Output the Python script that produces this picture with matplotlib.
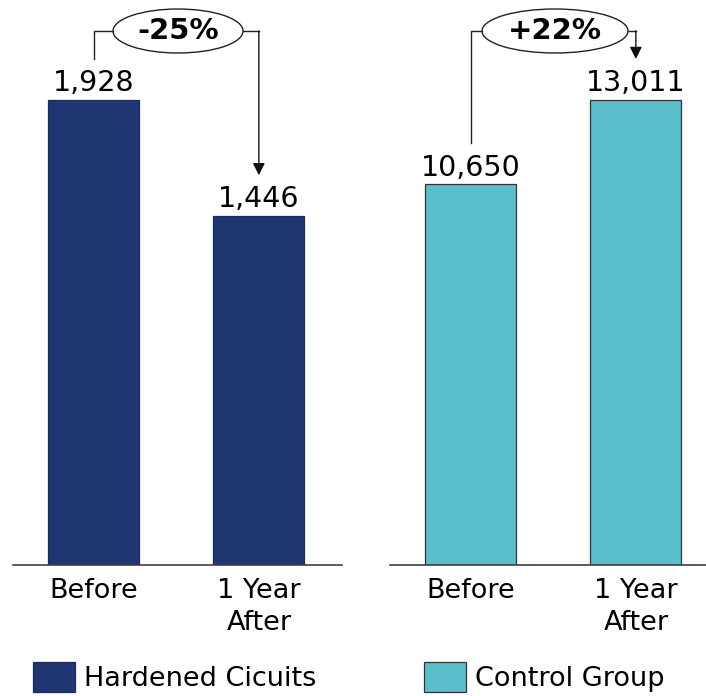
import matplotlib.pyplot as plt
from matplotlib.patches import Ellipse, Rectangle

# data
categories = ['Before', '1 Year\nAfter']
hardened = [1928, 1446]
control = [10650, 13011]
changes = ['-25%', '+22%']
groups = ['Hardened Cicuits', 'Control Group']
colors = ['#1f3673', '#5bbfcb']
edges = ['#1a2c5e', '#333333']

W, H = 706, 696
fig = plt.figure(figsize=(W / 100, H / 100), dpi=100)
plt.rcParams['font.family'] = ['DejaVu Sans']

base = 565      # pixel row of the baseline
top_bar = 100   # pixel row of the tallest bar in each panel
bar_px = 165    # spacing of bar centres, pixels


def panel(left_px, right_px, vals, color, edge, label, ell_w):
    ax = fig.add_axes([left_px / W, (H - base) / H, (right_px - left_px) / W, base / H])
    x = [0, 1]
    ax.bar(x, vals, width=0.55, color=color, edgecolor=edge, linewidth=0.9, zorder=2)
    vmax = max(vals)
    dpp = vmax / (base - top_bar)         # data units per pixel
    ax.set_ylim(0, base * dpp)
    x0 = -0.49
    ax.set_xlim(x0, x0 + (right_px - left_px) / bar_px)
    for s in ['top', 'left', 'right']:
        ax.spines[s].set_visible(False)
    ax.spines['bottom'].set_color('#404040')
    ax.spines['bottom'].set_linewidth(1.2)
    ax.set_yticks([])
    ax.set_xticks(x)
    ax.set_xticklabels(categories, fontsize=19.5, linespacing=1.3)
    ax.tick_params(axis='x', length=0, pad=9)

    for xi, v in zip(x, vals):
        ax.annotate(f'{v:,}', (xi, v), xytext=(0, 2), textcoords='offset points',
                    ha='center', va='bottom', fontsize=20.5)

    # connector with ellipse
    off = 41 * dpp
    yc = vmax + 69 * dpp
    xc = 0.51
    half = ell_w / 2 / bar_px
    ax.add_patch(Ellipse((xc, yc), ell_w / bar_px, 44 * dpp, facecolor='white',
                         edgecolor='#222222', linewidth=1, clip_on=False, zorder=3))
    ax.text(xc, yc, label, ha='center', va='center', fontsize=21, fontweight='bold', zorder=4)
    ax.plot([0, 0, xc - half], [vals[0] + off, yc, yc], color='#222222', lw=1,
            clip_on=False, zorder=3)
    ax.plot([xc + half, 1], [yc, yc], color='#222222', lw=1, clip_on=False, zorder=3)
    ax.annotate('', xy=(1, vals[1] + off), xytext=(1, yc),
                arrowprops=dict(arrowstyle='-|>', color='#111111', lw=1,
                                mutation_scale=18, shrinkA=0, shrinkB=0))
    return ax


panel(13, 342, hardened, colors[0], edges[0], changes[0], 130)
panel(390, 706, control, colors[1], edges[1], changes[1], 146)

# legend
for lx, c, e, g in zip([33, 424], colors, edges, groups):
    fig.add_artist(Rectangle((lx / W, (H - 692) / H), 42 / W, 30 / H,
                             transform=fig.transFigure, facecolor=c,
                             edgecolor=e, linewidth=0.9))
    fig.text((lx + 51) / W, (H - 679) / H, g, fontsize=19.5, va='center', ha='left')

fig.savefig('out.png', dpi=100)
